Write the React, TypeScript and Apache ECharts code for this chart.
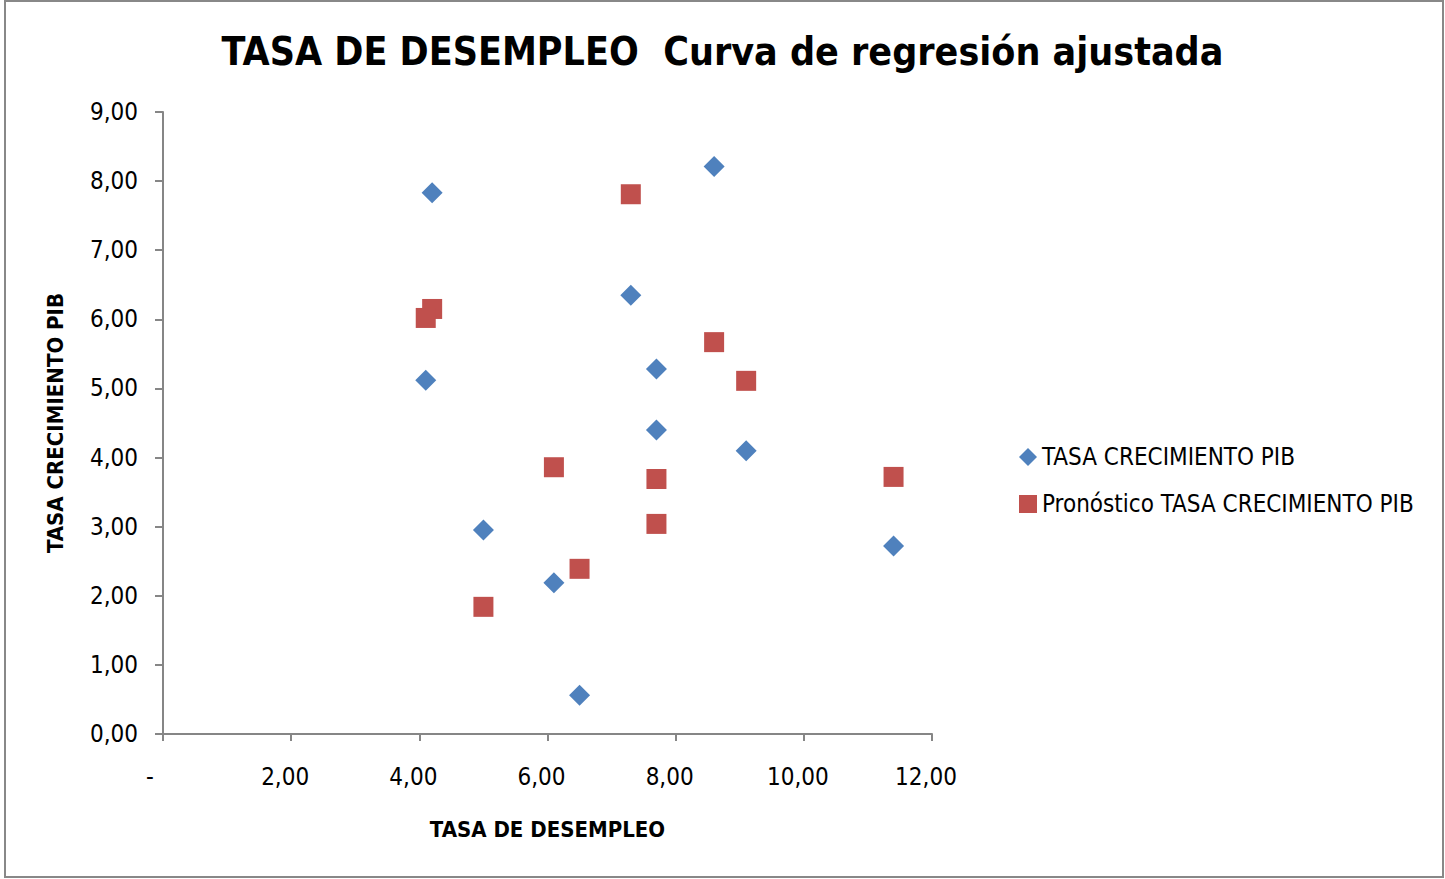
import React, { useEffect, useRef } from "react";
import * as echarts from "echarts";

const titleText = "TASA DE DESEMPLEO  Curva de regresión ajustada";
const xAxisName = "TASA DE DESEMPLEO";
const yAxisName = "TASA CRECIMIENTO PIB";
const seriesNames = ["TASA CRECIMIENTO PIB", "Pronóstico TASA CRECIMIENTO PIB"];

// Tasa de desempleo (x)
const desempleo = [4.2, 8.6, 7.3, 4.1, 7.7, 7.7, 9.1, 5.0, 6.1, 11.4, 6.5];
// Tasa crecimiento PIB (observed)
const crecimiento = [7.83, 8.21, 6.35, 5.12, 5.28, 4.40, 4.10, 2.95, 2.19, 2.72, 0.56];
// Pronóstico
const pronostico = [6.15, 5.67, 7.81, 6.02, 3.69, 3.04, 5.11, 1.84, 3.86, 3.72, 2.39];

const FONT = "'Liberation Sans Narrow', 'Arial Narrow', 'DejaVu Sans Condensed', sans-serif";

const fmt = (v: number) => v.toFixed(2).replace(".", ",");

export default function App() {
  const ref = useRef<HTMLDivElement>(null);
  useEffect(() => {
    document.body.style.margin = "0";
    const chart = echarts.init(ref.current!, null, { renderer: "svg" });
    const obs = desempleo.map((x, i) => [x, crecimiento[i]]);
    const pro = desempleo.map((x, i) => [x, pronostico[i]]);
    chart.setOption({
      animation: false,
      backgroundColor: "#ffffff",
      textStyle: { fontFamily: FONT },
      title: {
        text: titleText,
        left: "center",
        top: 27,
        textStyle: { fontFamily: FONT, fontSize: 39, fontWeight: "bold", color: "#000" },
      },
      graphic: [
        {
          type: "rect",
          shape: { x: 5, y: 1, width: 1438, height: 876 },
          style: { fill: "none", stroke: "#888888", lineWidth: 2 },
          silent: true,
        },
      ],
      legend: {
        orient: "vertical",
        left: 1014,
        top: 440,
        itemWidth: 18,
        itemHeight: 18,
        itemGap: 23,
        textStyle: { fontFamily: FONT, fontSize: 24, color: "#000", lineHeight: 24 },
        data: [
          { name: seriesNames[0], icon: "diamond" },
          { name: seriesNames[1], icon: "rect" },
        ],
      },
      grid: { left: 163, right: 513, top: 112, bottom: 145 },
      xAxis: {
        type: "value",
        min: 0,
        max: 12,
        interval: 2,
        name: xAxisName,
        nameLocation: "middle",
        nameGap: 84,
        nameTextStyle: { fontFamily: FONT, fontSize: 22, fontWeight: "bold", color: "#000" },
        splitLine: { show: false },
        axisLine: { show: true, lineStyle: { color: "#868686", width: 2 } },
        axisTick: { show: true, length: 7, lineStyle: { color: "#868686", width: 2 } },
        axisLabel: {
          margin: 31,
          color: "#000",
          fontFamily: FONT,
          fontSize: 24,
          formatter: (v: number) => (v === 0 ? "{a|-}" : "{b|" + fmt(v) + "}"),
          rich: {
            a: { fontFamily: FONT, fontSize: 24, color: "#000", padding: [0, 26, 0, 0] },
            b: { fontFamily: FONT, fontSize: 24, color: "#000", padding: [0, 12, 0, 0] },
          },
        },
      },
      yAxis: {
        type: "value",
        min: 0,
        max: 9,
        interval: 1,
        name: yAxisName,
        nameLocation: "middle",
        nameGap: 97,
        nameTextStyle: { fontFamily: FONT, fontSize: 22, fontWeight: "bold", color: "#000" },
        splitLine: { show: false },
        axisLine: { show: true, lineStyle: { color: "#868686", width: 2 } },
        axisTick: { show: true, length: 8, lineStyle: { color: "#868686", width: 2 } },
        axisLabel: {
          margin: 25,
          color: "#000",
          fontFamily: FONT,
          fontSize: 24,
          formatter: (v: number) => fmt(v),
        },
      },
      series: [
        {
          name: seriesNames[0],
          type: "scatter",
          symbol: "diamond",
          symbolSize: 21,
          itemStyle: { color: "#4F81BD", opacity: 1 },
          data: obs,
        },
        {
          name: seriesNames[1],
          type: "scatter",
          symbol: "rect",
          symbolSize: 20,
          itemStyle: { color: "#C0504D", opacity: 1 },
          data: pro,
        },
      ],
    });
    return () => chart.dispose();
  }, []);
  return <div ref={ref} style={{ width: 1445, height: 879 }} />;
}
